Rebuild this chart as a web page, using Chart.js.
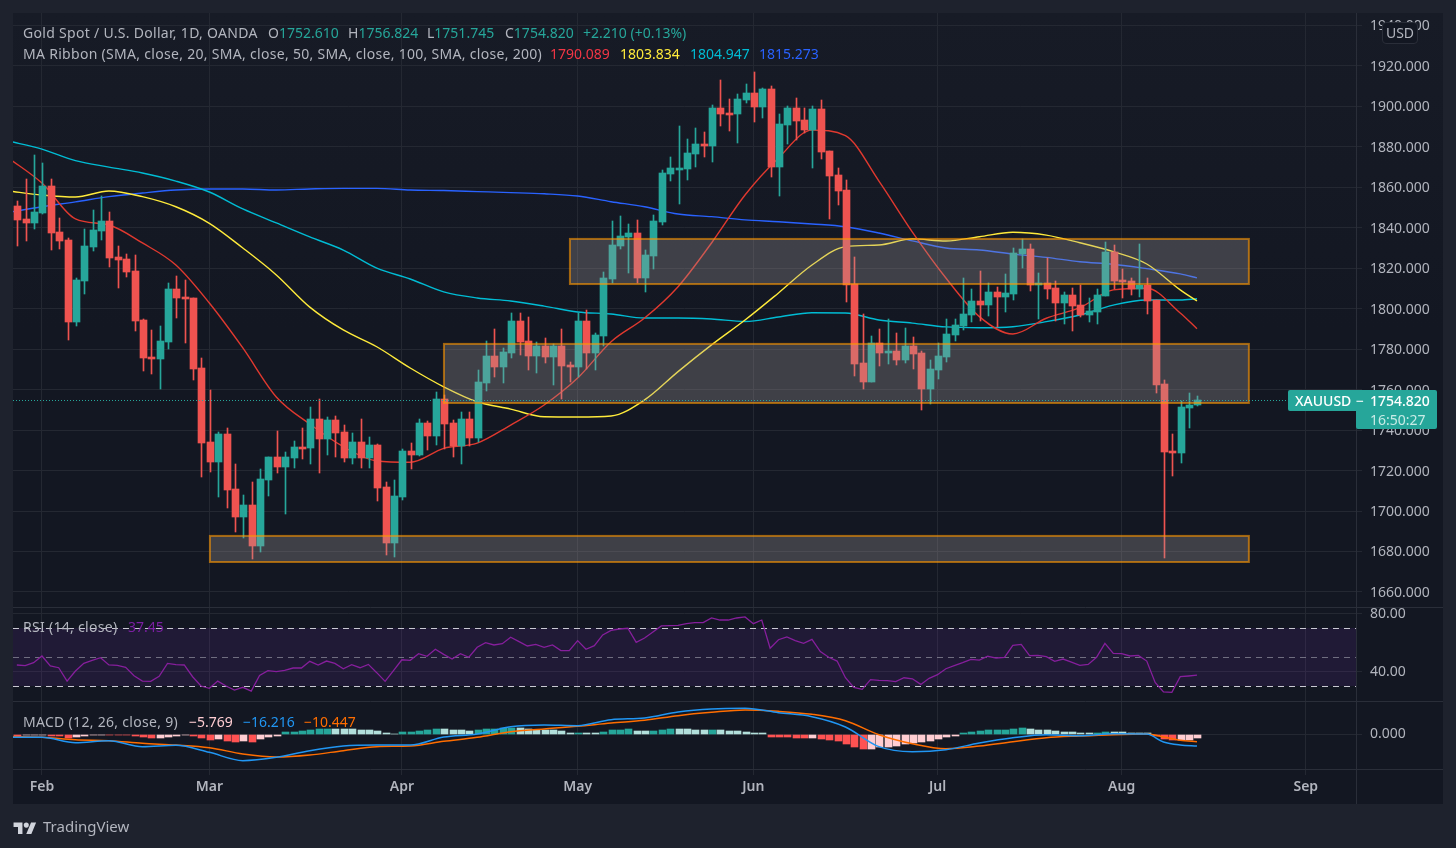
<!DOCTYPE html>
<html>
<head>
<meta charset="utf-8">
<script src="https://cdn.jsdelivr.net/npm/chart.js@4"></script>
<style>
html,body{margin:0;padding:0;background:#1e222d;width:1456px;height:848px;overflow:hidden;font-family:"Noto Sans",sans-serif}
#panel{position:absolute;left:13px;top:13px;width:1430px;height:791px;background:linear-gradient(#171b26,#131722 40%)}
canvas{position:absolute;left:0;top:0}
.t{position:absolute;white-space:nowrap;font-size:14px;line-height:20px;height:20px;color:#b2b5be}
.w{letter-spacing:.3px}
#lastTag{position:absolute;left:1288px;top:390px;width:149px;height:21px;background:#26a69a;border-radius:2px 2px 0 2px}
#lastTag2{position:absolute;left:1356px;top:410px;width:81px;height:19px;background:#26a69a;border-radius:0 0 2px 2px}
#usd{position:absolute;left:1382px;top:22px;width:34px;height:20px;border:1px solid #2a2e39;border-radius:4px;background:#131722;color:#b2b5be;font-size:14px;line-height:19px;text-align:center}
#logo{position:absolute;left:13px;top:820px}
</style>
</head>
<body>
<div id="panel"></div>
<canvas id="c" width="1456" height="848"></canvas>

<div class="t w" style="left:23px;top:23px">Gold Spot / U.S. Dollar, 1D, OANDA</div>
<div class="t" style="left:268px;top:23px">O<span style="color:#26a69a">1752.610</span></div>
<div class="t" style="left:348px;top:23px">H<span style="color:#26a69a">1756.824</span></div>
<div class="t" style="left:427px;top:23px">L<span style="color:#26a69a">1751.745</span></div>
<div class="t" style="left:505px;top:23px">C<span style="color:#26a69a">1754.820</span></div>
<div class="t" style="left:583px;top:23px;color:#26a69a">+2.210 (+0.13%)</div>
<div class="t w" style="left:23px;top:44px">MA Ribbon (SMA, close, 20, SMA, close, 50, SMA, close, 100, SMA, close, 200)</div>
<div class="t" style="left:550px;top:44px;color:#f23645">1790.089</div>
<div class="t" style="left:620px;top:44px;color:#ffeb3b">1803.834</div>
<div class="t" style="left:690px;top:44px;color:#00bcd4">1804.947</div>
<div class="t" style="left:759px;top:44px;color:#2962ff">1815.273</div>
<div class="t w" style="left:23px;top:617px">RSI (14, close)</div>
<div class="t" style="left:128px;top:617px;color:#7b1fa2">37.45</div>
<div class="t w" style="left:23px;top:712px">MACD (12, 26, close, 9)</div>
<div class="t" style="left:189px;top:712px;color:#ffcdd2">−5.769</div>
<div class="t" style="left:243px;top:712px;color:#2196f3">−16.216</div>
<div class="t" style="left:304px;top:712px;color:#ff6d00">−10.447</div>

<div id="usd">USD</div>
<div id="lastTag"></div><div id="lastTag2"></div>
<div class="t" style="left:1295px;top:391px;color:#fff;font-weight:500">XAUUSD</div>
<div class="t" style="left:1356px;top:391px;color:#fff">−</div>
<div class="t" style="left:1370px;top:391px;color:#fff;font-weight:500">1754.820</div>
<div class="t" style="left:1370px;top:410px;color:#c8ebe6">16:50:27</div>

<svg id="logo" width="24" height="14" viewBox="0 0 36 22"><path fill="#d1d4dc" d="M14 22H7V11H0V4h14v18zM28 22h-8l7.5-18h8L28 22z"/><circle fill="#d1d4dc" cx="20" cy="8" r="4"/></svg>
<div class="t" style="left:43px;top:816px;color:#b2b5be;font-size:15px">TradingView</div>

<script>
const opens = [
1850.8,1844.3,1842.4,1847.3,1860.7,1837.9,1834,1793.5,1813.7,1830.5,
1838.4,1843.4,1825.6,1824.6,1818.6,1794.4,1776.1,1775.1,1783.5,1809.7,
1805.8,1805.3,1770.7,1734.1,1724.2,1738,1710.9,1697,1703,1682.7,
1715.3,1726.7,1721.8,1726.2,1731.6,1731.1,1745.5,1735.6,1745,1739.1,
1726.2,1734.1,1726.2,1732.6,1711.9,1684.2,1706.9,1729.7,1727.7,1743.5,
1737.1,1755.4,1743.5,1732.1,1745.5,1736.1,1763.3,1776.6,1771.2,1778.1,
1793.9,1784,1776.6,1781.6,1776.1,1781.6,1772.2,1771.2,1793.9,1778.1,
1786.5,1814.7,1831,1835.4,1837.4,1815.2,1826.1,1842.9,1866.6,1869.1,
1869.1,1876.5,1881.4,1880.4,1899.2,1896.7,1896.2,1903.2,1906.6,1899.7,
1908.6,1870.1,1890.8,1899.2,1893.3,1888.4,1898.7,1878,1866.1,1858.7,
1812.2,1773.2,1763.8,1783,1778.1,1779.1,1774.7,1781.6,1778.1,1760.3,
1769.7,1776.1,1787,1791.5,1796.9,1803.8,1801.8,1808.3,1805.8,1807.3,
1827,1829.5,1811.7,1812.7,1810.2,1802.8,1806.8,1801.8,1796.9,1798.4,
1806.3,1828,1814.2,1813.7,1809.7,1811.7,1804.3,1762.8,1729.7,1728.7,
1750.9,1752.61];
const closes = [
1843.9,1842.4,1847.8,1860.7,1837.4,1833.5,1793.5,1814.2,1831,1838.9,
1843.4,1825.1,1824.1,1818.1,1793.9,1775.6,1775.1,1784,1809.7,1805.3,
1804.8,1770.2,1733.6,1724.2,1738,1710.4,1697,1703,1682.7,1715.8,
1726.7,1721.8,1726.7,1731.6,1731.1,1745.5,1735.6,1745,1738.6,1726.2,
1734.1,1726.2,1732.6,1711.4,1684.2,1707.4,1729.7,1727.7,1743.5,1737.1,
1755.4,1743,1732.1,1745.5,1736.1,1763.8,1776.6,1771.2,1778.6,1793.9,
1783.5,1776.6,1781.6,1776.1,1781.6,1771.7,1771.2,1793.9,1778.1,1787,
1815.2,1831.5,1835.9,1837.4,1815.2,1826.6,1843.4,1867.1,1869.6,1869.6,
1877,1881.4,1880.4,1899.2,1896.2,1896.2,1903.7,1906.6,1899.7,1908.6,
1870.1,1891.3,1899.2,1892.8,1888.4,1898.7,1877.5,1865.6,1858.2,1811.7,
1772.7,1763.8,1783,1778.1,1779.1,1774.7,1781.6,1777.6,1760.3,1770.2,
1776.6,1787.5,1791.9,1797.4,1803.8,1801.8,1808.3,1805.8,1807.8,1827.5,
1829.5,1811.7,1812.7,1809.7,1802.8,1806.8,1801.3,1796.9,1798.9,1806.8,
1828,1813.7,1813.2,1809.7,1811.7,1803.8,1762.3,1729.2,1728.7,1751.4,
1752.4,1754.82];
const highs = [
1853.2,1864.1,1876,1872,1864.1,1844.8,1835,1815.2,1839.4,1848.8,
1855.7,1847.8,1831,1827,1826.6,1794.9,1789.5,1791.5,1812.7,1816.2,
1814.2,1805.3,1775.6,1759.8,1739,1741,1723.3,1707.9,1714.4,1720.8,
1726.7,1739.6,1729.2,1734.6,1741,1751.4,1755.4,1746.5,1747,1742.5,
1738.6,1745.5,1736.6,1733.1,1714.4,1715.4,1730.7,1733.6,1745.5,1744.5,
1758.8,1757.4,1745,1749,1749,1769.7,1784,1790,1780.6,1797.9,
1797.9,1795.9,1783.5,1785.5,1782.6,1790,1773.7,1797.9,1799.4,1788,
1818.1,1843.4,1845.8,1841.9,1843.9,1829,1846.3,1868.6,1875,1890.3,
1883.9,1889.3,1887.3,1900.7,1913.1,1903.7,1906.1,1911.1,1917,1909.1,
1910.1,1896.2,1900.2,1904.2,1899.2,1900.2,1903.2,1878,1869.6,1863.6,
1825.6,1797.4,1786.5,1790,1794.9,1788,1790.5,1786,1779.1,1774.7,
1783,1794.9,1794.9,1815.2,1809.7,1818.6,1812.7,1810.7,1817.2,1830,
1834.5,1832,1817.6,1825.1,1813.7,1808.3,1810.2,1811.7,1805.3,1809.7,
1833,1831.5,1819.6,1815.2,1832,1815.2,1804.3,1764.8,1738.1,1754.4,
1758.3,1756.824];
const lows = [
1831,1833.5,1839.4,1847,1829,1829.5,1784.5,1791.5,1807.3,1828.5,
1834,1820.6,1810.2,1815.7,1789,1769.2,1767.7,1760.3,1780.1,1795.4,
1783,1764.8,1716.8,1719.3,1706.9,1701.5,1689.6,1686.7,1676.3,1679.7,
1707.4,1718.8,1698.5,1721.3,1725.7,1723.3,1718.8,1727.7,1726.7,1724.2,
1723.3,1721.3,1721.3,1704.9,1678.3,1677.3,1705.4,1720.8,1727.2,1730.2,
1732.6,1730.7,1726.7,1723.3,1732.1,1734.1,1759.3,1766.2,1763.3,1775.6,
1777.1,1769.7,1768.2,1773.2,1762.3,1755.4,1763.8,1766.2,1770.2,1769.7,
1781.6,1812.7,1829.5,1817.6,1812.7,1808.3,1819.6,1841.4,1863.1,1851.8,
1863.6,1870.1,1875,1872.5,1890.3,1887.8,1881.9,1901.7,1892.3,1894.3,
1865.1,1855.7,1881.4,1883.4,1886.9,1869.6,1874,1844.3,1851.3,1803.3,
1766.7,1760.3,1763.8,1771.7,1772.7,1772.2,1773.2,1770.2,1749.9,1752.9,
1765.3,1773.7,1784,1789.5,1793.4,1793.9,1796.4,1791,1798.4,1804.3,
1820.1,1808.8,1794.9,1804.8,1793.9,1792.4,1789,1795.9,1793.4,1792.4,
1806.3,1809.7,1805.3,1806.8,1805.8,1797.4,1758.3,1676.8,1717.3,1723.7,
1741,1751.745];

const maBars = [-1,3,7,11,15,19,23,27,31,35,39,43,47,51,55,59,63,67,71,75,79,83,87,91,95,99,103,107,111,115,119,123,127,131,135,139,141];
const sma20 = [1874.5,1862.1,1844.4,1841.4,1832.5,1821.6,1802.8,1780.6,1756.4,1743,1731.8,1724.7,1724.1,1731,1733.6,1742.5,1752.4,1765.7,1783.7,1795.4,1810.9,1832.5,1856.2,1874.5,1888.3,1885.5,1863.1,1837.9,1815.2,1796.1,1787.5,1795.3,1800.5,1809.3,1810.1,1797.9,1790.089];
const sma50 = [1858.2,1856.2,1855.2,1858.2,1855.4,1850.4,1842.2,1830,1816.7,1800.8,1789.5,1781.2,1770.7,1761.4,1754,1750.4,1746.6,1746.5,1747,1754.9,1768.9,1782.1,1794.4,1807.8,1821.6,1830.7,1831.5,1834.5,1833.5,1835.6,1837.8,1836.4,1832.6,1828.2,1822.1,1809.3,1803.834];
const sma100 = [1882.9,1878.9,1873.2,1870,1867.1,1863.1,1857.7,1849.3,1842.4,1835.5,1829,1820.1,1814.7,1808.3,1805.3,1803.8,1801.3,1798.4,1797.4,1795.4,1795.4,1794.9,1793.7,1795.9,1798,1797.9,1794.4,1792.9,1791,1790.6,1791.1,1793.6,1796.9,1801.8,1804.3,1804.3,1804.947];
const sma200 = [1847.6,1850.4,1852.8,1855.4,1857.2,1858.7,1859.2,1859.2,1858.7,1859.2,1859.5,1859.5,1858.7,1858.4,1857.9,1857.4,1856.8,1855.7,1852.9,1850.4,1846.8,1845.5,1843.9,1843,1841.9,1840.5,1837.4,1833.5,1830,1829,1827,1825.4,1823.2,1822,1819.8,1817.2,1815.273];

const rsi = [
44.5,44,46.1,50.7,43.8,42.6,33.4,40.3,45.6,47.7,
49.5,44.5,44.2,42.9,37.1,33.4,33.2,36.7,45.6,44.7,
44.5,36.4,30,28.4,33.4,30,27.2,29.1,26.5,37.3,
40.6,39.9,40.8,42.4,42.4,47,44.5,47.2,45.6,41.9,
44.7,42.6,44.9,39.2,33.2,40.6,48.1,47.7,52.3,50.5,
55.3,51.8,48.6,52.3,49.8,56.7,59.9,58.3,59.2,63.6,
60.6,57.6,58.7,56.7,58.3,54.4,54.4,61.3,55.3,57.8,
65.2,68.4,69.3,69.8,60.1,63.1,67.2,71.4,71.6,71.8,
73,73.7,73.7,76.9,75.5,75.5,76.9,77.6,73,75.5,
56,61.9,63.8,61.3,59.4,62.2,53.7,49.8,47.2,35.7,
29.1,27.7,34.4,33.9,33.7,33,35.7,35,31.1,35.3,
37.8,41.9,44,46.1,48.4,47.9,50.5,49.3,49.8,58,
58.7,50.9,51.1,50.2,47,48.6,46.5,44.2,44.9,49.8,
59.4,52.5,52.3,50.7,51.1,47.2,32.5,25.9,25.6,36.4,
36.9,37.45];

const macdHist = [
-2.7,-2,-1.8,-0.9,-2.5,-3,-5,-4,-2.7,-1.8,
-1,-1,-1.1,-1.2,-3.2,-4.5,-5.9,-5.8,-3.6,-2.3,
-1.4,-2.3,-5,-7.7,-7.2,-9.9,-10.4,-9,-10.4,-7.2,
-3.6,-2.3,2.3,2.7,4.5,5.9,6.3,7.2,7.1,6.8,
6.3,5.9,5.8,4.5,1.8,0.5,3.2,3.3,4.5,5.4,
7,6.9,5.9,5.8,4.5,5.9,6.8,7.2,8.5,8.7,
8.6,6.3,5,4.9,4.8,3.6,1.8,1.9,1.8,1.7,
3.2,5.8,5.9,7.2,4.5,4.4,4.5,5.9,7.2,7.1,
7,5.9,5.8,5.9,5.8,4.5,4.4,3.2,1.8,1.7,
-3.5,-3.6,-3.7,-5,-5.1,-5,-6.3,-7.7,-9,-13,
-17,-19.8,-19.7,-17,-16.9,-15.8,-13,-11.7,-10.4,-9,
-6.3,-3.6,-2.3,1.8,3.2,4.5,5.8,5.9,6,7.2,
8.6,7.2,5.9,5.8,4.5,3.2,3.1,1.8,1.7,1.8,
3.2,3.1,3,1.8,1.7,1.6,-2.3,-6.3,-7.7,-7.6,
-7.5,-5.769];
const macdBars = [-1,3,7,11,15,19,23,27,31,35,39,43,47,51,55,59,63,67,71,75,79,83,87,91,95,99,103,107,111,115,119,123,127,131,135,137,139,141];
const macdLine = [-4.5,-4.5,-11.7,-9,-17.1,-15.3,-24.8,-36,-31.5,-22.5,-16.2,-14.9,-14.9,-4.1,0,9.9,12.2,11.3,19.4,21.6,29.7,33.8,34.7,28.8,23.4,9.5,-17.1,-23.9,-21.2,-12.2,-5,-0.9,-2.3,0.5,0,-10.8,-14.9,-16.216];
const macdSignal = [-3.2,-4.5,-7.7,-9,-12.6,-14.9,-18.5,-27,-31.1,-28.4,-22.5,-17.1,-16.2,-9.9,-4.5,3.2,6.8,10.4,14.9,18.5,24.8,29.3,32.4,30.6,26.6,18,-0.9,-13.1,-19.8,-16.2,-10.4,-5,-2.7,-0.9,0,-4.1,-8.6,-10.447];

const monthBars = [3,23,46,67,88,110,132,154];
const monthLabels = ['Feb','Mar','Apr','May','Jun','Jul','Aug','Sep'];
const priceTicks = [1660,1680,1700,1720,1740,1760,1780,1800,1820,1840,1860,1880,1900,1920,1940];
const rsiTicks = [40,80];
const macdTicks = [0];
const rsiLevels = [70,50,30];
const lastPrice = 1754.82;
const zoneStarts = [66.08,51.03,23.07];
const zoneEnd = 147.2;
const zoneHighs = [1834.5,1782.6,1687.7];
const zoneLows = [1812.2,1753.4,1674.8];

const UP='#26a69a', DOWN='#ef5350';
const bars = opens.map((_,i)=>i);
const candleColor = bars.map(i=>closes[i]>=opens[i]?UP:DOWN);
const histColor = macdHist.map((v,i)=>{
  const p = i?macdHist[i-1]:(v<0?0:-99);
  if(v>=0) return v>=p?'#26a69a':'#b2dfdb';
  return v<=p?'#ff5252':'#ffcdd2';
});
const xy = (xs,ys)=>xs.map((x,i)=>({x,y:ys[i]}));
const lineDs = (data,color,yAxisID,order,width,straight)=>({type:'line',data,borderColor:color,borderWidth:width||1.4,pointRadius:0,tension:0,cubicInterpolationMode:straight?'default':'monotone',yAxisID,xAxisID:'x',order});

const gridColor='#242832', sepColor='#2a2e39', tickColor='#b2b5be';
const tickFont={family:'"Noto Sans"',size:14};
const noPad=s=>{s.paddingTop=0;s.paddingBottom=0;s.paddingLeft=0;s.paddingRight=0;};

const overlays={
  id:'overlays',
  afterDatasetsUpdate(chart){
    // snap the library-computed bar rectangles to whole pixels so candles stay crisp
    chart.data.datasets.forEach((ds,di)=>{
      if(ds.type!=='bar')return;
      chart.getDatasetMeta(di).data.forEach(el=>{
        el.x=Math.ceil(el.x)+0.5;
        let t=Math.round(Math.min(el.y,el.base)),b=Math.round(Math.max(el.y,el.base));
        if(b-t<2&&ds.snapMin)b=t+2;
        el.y=t;el.base=b;el.height=b-t;
      });
    });
  },
  beforeDatasetsDraw(chart){
    const {ctx,scales:{rsiAxis},chartArea:a}=chart;
    ctx.save();
    ctx.fillStyle='rgba(126,50,194,0.13)';
    const yT=rsiAxis.getPixelForValue(rsiLevels[0]),yB=rsiAxis.getPixelForValue(rsiLevels[2]);
    ctx.fillRect(a.left,yT,a.right-a.left,yB-yT);
    ctx.lineWidth=1;
    ctx.setLineDash([6,5]);
    rsiLevels.forEach((lv,i)=>{
      const y=Math.round(rsiAxis.getPixelForValue(lv))+0.5;
      ctx.strokeStyle=i===1?'rgba(178,181,190,0.55)':'#c9c9d2';
      ctx.beginPath();ctx.moveTo(a.left,y);ctx.lineTo(a.right,y);ctx.stroke();
    });
    ctx.restore();
  },
  afterDatasetsDraw(chart){
    const {ctx,scales:{x,priceAxis},chartArea:a}=chart;
    ctx.save();
    zoneStarts.forEach((s,i)=>{
      const l=x.getPixelForValue(s),r=x.getPixelForValue(zoneEnd);
      const t=priceAxis.getPixelForValue(zoneHighs[i]),b=priceAxis.getPixelForValue(zoneLows[i]);
      ctx.fillStyle='rgba(165,160,160,0.30)';
      ctx.fillRect(l,t,r-l,b-t);
      ctx.strokeStyle='rgba(255,152,0,0.6)';
      ctx.lineWidth=2;
      ctx.strokeRect(l,t,r-l,b-t);
    });
    const y=Math.round(priceAxis.getPixelForValue(lastPrice))+0.5;
    ctx.strokeStyle=UP;ctx.lineWidth=1;ctx.setLineDash([1,2]);
    ctx.beginPath();ctx.moveTo(a.left,y);ctx.lineTo(1288,y);ctx.stroke();
    ctx.setLineDash([]);
    ctx.strokeStyle=sepColor;ctx.lineWidth=1;
    ['priceAxis','rsiAxis','macdAxis'].forEach(k=>{
      const yy=Math.round(chart.scales[k].bottom)+0.5;
      ctx.beginPath();ctx.moveTo(a.left,yy);ctx.lineTo(1443,yy);ctx.stroke();
    });
    ctx.beginPath();ctx.moveTo(a.right+0.5,13);ctx.lineTo(a.right+0.5,804);ctx.stroke();
    ctx.restore();
  }
};

const yBase=(min,max,weight,ticks,digits,nudge)=>({
  type:'linear',position:'right',stack:'panes',stackWeight:weight,min,max,
  grid:{color:gridColor,tickColor:gridColor,tickLength:6,lineWidth:1},
  border:{display:false},
  afterBuildTicks(s){s.ticks=ticks.map(value=>({value}));},
  afterFit(s){s.width=85;noPad(s);},
  ticks:{color:tickColor,font:tickFont,crossAlign:'near',padding:8,labelOffset:nudge,autoSkip:false,callback:v=>v.toFixed(digits)}
});

new Chart(document.getElementById('c'),{
  type:'bar',
  plugins:[overlays],
  data:{datasets:[
    lineDs(xy(maBars,sma20),'#e0392f','priceAxis',5),
    lineDs(xy(maBars,sma50),'#ffeb3b','priceAxis',5),
    lineDs(xy(maBars,sma100),'#00bcd4','priceAxis',5),
    lineDs(xy(maBars,sma200),'#2962ff','priceAxis',5),
    {type:'bar',data:bars.map(i=>({x:i,y:[lows[i],highs[i]]})),backgroundColor:candleColor,barThickness:1,grouped:false,yAxisID:'priceAxis',xAxisID:'x',order:3,borderWidth:0},
    {type:'bar',data:bars.map(i=>({x:i,y:[opens[i],closes[i]]})),backgroundColor:candleColor,barThickness:7,snapMin:true,grouped:false,yAxisID:'priceAxis',xAxisID:'x',order:2,borderWidth:0},
    lineDs(xy(bars,rsi),'#861f9c','rsiAxis',1,1.3,true),
    {type:'bar',data:bars.map(i=>({x:i,y:macdHist[i]})),backgroundColor:histColor,barThickness:7,grouped:false,yAxisID:'macdAxis',xAxisID:'x',order:4,borderWidth:0},
    lineDs(xy(macdBars,macdLine),'#2196f3','macdAxis',1,1.5),
    lineDs(xy(macdBars,macdSignal),'#ff6d00','macdAxis',1,1.5)
  ]},
  options:{
    responsive:false,animation:false,devicePixelRatio:1,
    layout:{autoPadding:false,padding:{left:13,top:13,right:15,bottom:44}},
    plugins:{legend:{display:false},tooltip:{enabled:false}},
    scales:{
      x:{
        type:'linear',position:'bottom',min:-0.46,max:160,offset:false,
        grid:{offset:false,color:gridColor,tickColor:gridColor,tickLength:6},
        border:{display:false},
        afterBuildTicks(s){s.ticks=monthBars.map(value=>({value}));},
        afterFit(s){s.height=35;noPad(s);},
        ticks:{color:tickColor,font:{family:'"Noto Sans"',size:14,weight:'600'},padding:4,autoSkip:false,maxRotation:0,
          callback:v=>monthLabels[monthBars.indexOf(v)]}
      },
      priceAxis:yBase(1652.56,1946.17,594,priceTicks,3,1),
      rsiAxis:yBase(19.66,84.48,94,rsiTicks,2,1),
      macdAxis:yBase(-47.3,44.6,68,macdTicks,3,0)
    }
  }
});
</script>
</body>
</html>
